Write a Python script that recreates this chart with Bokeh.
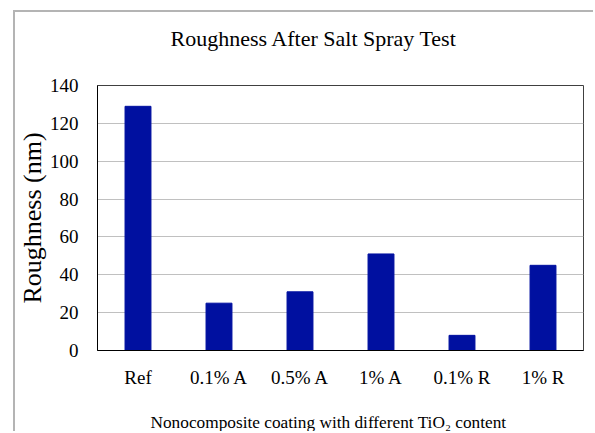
from bokeh.plotting import figure
from bokeh.models import Range1d, FactorRange, Title, FixedTicker
from bokeh.embed import file_html
from bokeh.resources import INLINE

categories = ["Ref", "0.1% A", "0.5% A", "1% A", "0.1% R", "1% R"]
roughness = [129, 25, 31, 51, 8, 45]
y_ticks = [0, 20, 40, 60, 80, 100, 120, 140]

title_text = "Roughness After Salt Spray Test"
x_label_text = "Nonocomposite coating with different TiO\u2082 content"
y_label_text = "Roughness (nm)"

BAR = "#0010a0"
SERIF = "Liberation Serif"

W, H = 580, 421
BL, BR, BT, BB = 82, 12, 73, 83

p = figure(width=W, height=H,
           x_range=FactorRange(*categories, range_padding=0),
           y_range=Range1d(0, 140),
           output_backend="svg", toolbar_location=None,
           min_border_left=BL, min_border_right=BR,
           min_border_top=BT, min_border_bottom=BB)
p.title.visible = False
p.margin = (10, 0, 0, 13)
p.styles = {"border-left": "2px solid #b4b4b4", "border-top": "2px solid #b4b4b4"}

p.vbar(x=categories, top=roughness, width=0.32, bottom=0,
       fill_color=BAR, line_color=BAR)

p.background_fill_color = "white"
p.border_fill_color = "white"
p.outline_line_color = "#404040"
p.outline_line_width = 1

p.xgrid.grid_line_color = None
p.ygrid.grid_line_color = "#c0c0c0"
p.yaxis.ticker = FixedTicker(ticks=y_ticks)

for ax in (p.xaxis[0], p.yaxis[0]):
    ax.major_tick_in = 0
    ax.major_tick_out = 0
    ax.minor_tick_line_color = None
    ax.axis_line_color = "black"
    ax.major_label_text_font = SERIF
    ax.major_label_text_font_size = "19px"
    ax.major_label_text_color = "black"
p.xaxis.major_label_standoff = 16
p.yaxis.major_label_standoff = 19

def spacer(gap):
    return Title(text="\u00a0", text_font_size="1px", standoff=gap)

# title (spacer keeps it away from the frame)
p.add_layout(spacer(32), "above")
p.add_layout(Title(text=title_text, align="left", offset=73, standoff=0,
                   text_font=SERIF, text_font_size="22px", text_font_style="normal",
                   text_color="black"), "above")
# x label
p.add_layout(spacer(17), "below")
p.add_layout(Title(text=x_label_text, align="left", offset=53, standoff=0,
                   text_font=SERIF, text_font_size="17.3px", text_font_style="normal",
                   text_color="black"), "below")
# y label
p.add_layout(Title(text=y_label_text, align="center", standoff=0,
                   text_font=SERIF, text_font_size="26px", text_font_style="normal",
                   text_color="black"), "left")

open("out.html", "w").write(file_html(p, INLINE))
